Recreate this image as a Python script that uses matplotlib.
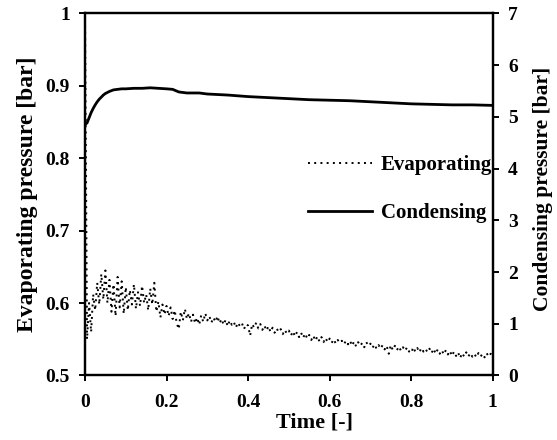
import numpy as np
import matplotlib.pyplot as plt

plt.rcParams['font.family'] = 'Liberation Serif'
plt.rcParams['font.weight'] = 'bold'
plt.rcParams['axes.labelweight'] = 'bold'
plt.rcParams['font.size'] = 14

# evaporating pressure [bar], sampled every 0.005 of the time span
evap = [1.000, 0.550, 0.600, 0.560, 0.612, 0.590, 0.628, 0.598, 0.640, 0.605,
        0.645, 0.600, 0.632, 0.588, 0.626, 0.582, 0.636, 0.594, 0.630, 0.585,
        0.622, 0.590, 0.618, 0.598, 0.626, 0.592, 0.615, 0.596, 0.624, 0.600,
        0.612, 0.590, 0.620, 0.598, 0.628, 0.588, 0.602, 0.580, 0.598, 0.584,
        0.596, 0.582, 0.594, 0.578, 0.590, 0.572, 0.564, 0.588, 0.576, 0.592,
        0.578, 0.586, 0.574, 0.584, 0.572, 0.580, 0.570, 0.583, 0.574, 0.586,
        0.576, 0.582, 0.573, 0.580, 0.574, 0.582, 0.572, 0.578, 0.570, 0.577,
        0.568, 0.576, 0.570, 0.574, 0.566, 0.573, 0.568, 0.572, 0.564, 0.571,
        0.569, 0.555, 0.571, 0.566, 0.573, 0.565, 0.571, 0.563, 0.569, 0.562,
        0.568, 0.560, 0.566, 0.559, 0.565, 0.560, 0.564, 0.557, 0.563, 0.558,
        0.562, 0.555, 0.561, 0.554, 0.560, 0.553, 0.559, 0.552, 0.558, 0.551,
        0.556, 0.549, 0.555, 0.548, 0.554, 0.547, 0.553, 0.546, 0.552, 0.546,
        0.551, 0.545, 0.550, 0.544, 0.549, 0.545, 0.548, 0.543, 0.548, 0.543,
        0.548, 0.541, 0.547, 0.540, 0.546, 0.541, 0.545, 0.539, 0.546, 0.541,
        0.544, 0.538, 0.543, 0.537, 0.542, 0.537, 0.542, 0.536, 0.541, 0.530,
        0.542, 0.535, 0.541, 0.535, 0.540, 0.534, 0.539, 0.534, 0.539, 0.533,
        0.531, 0.539, 0.533, 0.538, 0.532, 0.538, 0.533, 0.537, 0.532, 0.537,
        0.531, 0.537, 0.530, 0.536, 0.530, 0.535, 0.529, 0.535, 0.529, 0.534,
        0.527, 0.533, 0.527, 0.532, 0.524, 0.531, 0.526, 0.532, 0.526, 0.531,
        0.526, 0.530, 0.525, 0.531, 0.526, 0.530, 0.525, 0.531, 0.526, 0.530,
        0.528]
t_evap = np.linspace(0, 1, len(evap))

# condensing pressure [bar]
t_cond = [0.000, 0.005, 0.010, 0.015, 0.020, 0.025, 0.030, 0.035, 0.040, 0.045,
          0.050, 0.060, 0.070, 0.080, 0.090, 0.100, 0.120, 0.140, 0.160, 0.180,
          0.200, 0.215, 0.230, 0.250, 0.280, 0.300, 0.350, 0.400, 0.450, 0.500,
          0.550, 0.600, 0.650, 0.700, 0.750, 0.800, 0.850, 0.900, 0.950, 1.000]
cond = [4.85, 4.88, 4.98, 5.08, 5.16, 5.23, 5.29, 5.34, 5.38, 5.42,
        5.45, 5.49, 5.52, 5.53, 5.54, 5.54, 5.55, 5.55, 5.56, 5.55,
        5.54, 5.53, 5.48, 5.46, 5.46, 5.44, 5.42, 5.39, 5.37, 5.35,
        5.33, 5.32, 5.31, 5.29, 5.27, 5.25, 5.24, 5.23, 5.23, 5.22]

fig = plt.figure(figsize=(5.57, 4.4), dpi=100)
ax = fig.add_axes([0.1526, 0.1466, 0.732, 0.8232])
ax2 = ax.twinx()

l1, = ax.plot(t_evap, evap, color='black', lw=1.4, linestyle=(0, (1, 2.2)))
l2, = ax2.plot(t_cond, cond, color='black', lw=2.0)

ax.set_xlim(0, 1)
ax.set_ylim(0.5, 1)
ax2.set_ylim(0, 7)
ax.set_xticks([0, 0.2, 0.4, 0.6, 0.8, 1])
ax.set_xticklabels(['0', '0.2', '0.4', '0.6', '0.8', '1'])
ax.set_yticks([0.5, 0.6, 0.7, 0.8, 0.9, 1])
ax.set_yticklabels(['0.5', '0.6', '0.7', '0.8', '0.9', '1'])
ax2.set_yticks(range(8))

for a in (ax, ax2):
    for s in a.spines.values():
        s.set_linewidth(1.6)
    a.tick_params(direction='out', length=4, width=1.4, pad=7)
ax.tick_params(axis='x', pad=9)

ax.set_xlabel('Time [-]', fontsize=16)
ax.xaxis.set_label_coords(0.562, -0.103)
ax.set_ylabel('Evaporating pressure [bar]', fontsize=17, labelpad=5)
ax2.set_ylabel('Condensing pressure [bar]', fontsize=15.5, labelpad=11)
ax2.yaxis.set_label_coords(1.098, 0.514)

ax2.legend([l1, l2], ['Evaporating', 'Condensing'], frameon=False,
           loc='center left', bbox_to_anchor=(0.5, 0.515), fontsize=15,
           handlelength=3.1, labelspacing=1.35, handletextpad=0.4)

fig.savefig('out.png', dpi=100)
